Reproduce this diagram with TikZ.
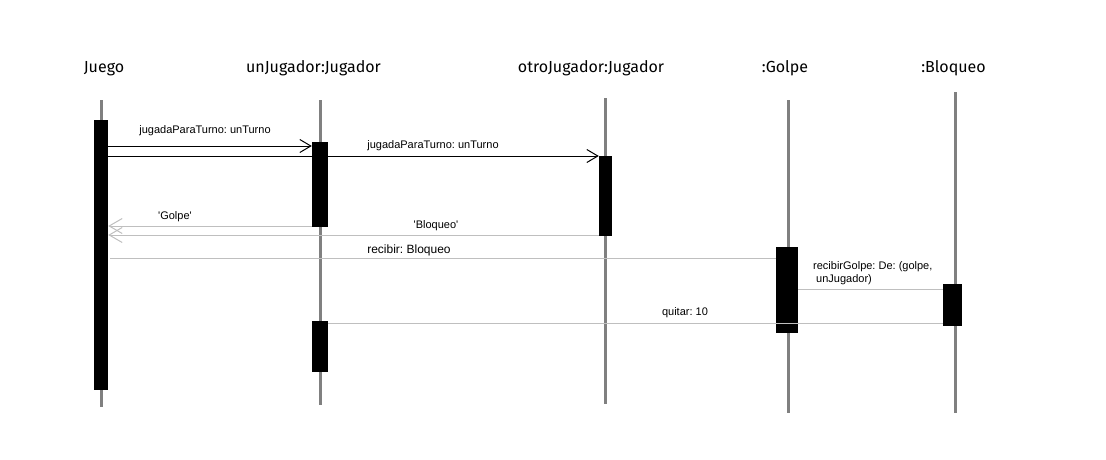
\documentclass[tikz,border=0pt]{standalone}
\usepackage{fontspec}
\setmainfont{Liberation Sans}
\newfontfamily\titlefont{Fira Sans}
\usetikzlibrary{positioning,arrows.meta}
\frenchspacing

\begin{document}
\begin{tikzpicture}[x=1pt,y=-1pt,font=\fontsize{11}{13}\selectfont,
  obj/.style={font=\titlefont\fontsize{16}{18}\selectfont,inner sep=0pt,anchor=base},
  life/.style={line width=3pt,black!50},
  act/.style={rectangle,fill=black,draw=none,inner sep=0pt},
  call/.style={-{Straight Barb[length=11pt,width=13pt]},line width=1pt,black},
  ret/.style={-{Straight Barb[length=13pt,width=15pt]},line width=1pt,black!25},
  msg/.style={line width=1pt,black!25},
  lbl/.style={inner sep=0pt,align=left}]
\useasboundingbox (0,0) rectangle (1106,460);
% objetos
\node[obj](juego) at (104,73){Juego};
\node[obj](unj) at (313.5,73){unJugador:Jugador};
\node[obj](otroj) at (591,73){otroJugador:Jugador};
\node[obj](golpe) at (785,73){:Golpe};
\node[obj](bloq) at (953.5,73){:Bloqueo};
% lineas de vida
\coordinate (ja) at (101,100); \coordinate (jz) at (101,407);
\coordinate (ua) at (320,100); \coordinate (uz) at (320,405);
\coordinate (oa) at (605.5,98); \coordinate (oz) at (605.5,404);
\coordinate (ga) at (788,100); \coordinate (gz) at (788,413);
\coordinate (ba) at (955,92); \coordinate (bz) at (955,413);
\draw[life](ja)--(jz);\draw[life](ua)--(uz);\draw[life](oa)--(oz);
\draw[life](ga)--(gz);\draw[life](ba)--(bz);
% activaciones
\node[act,minimum width=14pt,minimum height=270pt](jb) at (101,255){};
\node[act,minimum width=16pt,minimum height=85pt](ub1) at (320,184.5){};
\node[act,minimum width=16pt,minimum height=51pt](ub2) at (320,346.5){};
\node[act,minimum width=13pt,minimum height=80pt](ob) at (605.5,196){};
\node[act,minimum width=22pt,minimum height=86pt](gb) at (787,290){};
\node[act,minimum width=19pt,minimum height=42pt](bb) at (952.5,305){};
% mensajes
\coordinate (y1) at (0,146); \coordinate (y2) at (0,156);
\coordinate (y3) at (0,226); \coordinate (y4) at (0,235);
\coordinate (y5) at (0,258); \coordinate (y6) at (0,289);
\coordinate (y7) at (0,323);
\draw[call](jb.east |- y1)--(ub1.west |- y1);
\draw[call](jb.east |- y2)--(ob.west |- y2);
\draw[ret](ub1.west |- y3)--(jb.east |- y3);
\draw[ret](ob.west |- y4)--(jb.east |- y4);
\draw[msg](gb.west |- y5)--([xshift=2pt]jb.east |- y5);
\draw[msg](gb.east |- y6)--(bb.west |- y6);
\draw[msg](bb.west |- y7)--(ub2.east |- y7);
% etiquetas
\node[lbl](l1) at (205,131){jugadaParaTurno: unTurno};
\node[lbl](l2) at (433,146){jugadaParaTurno: unTurno};
\node[lbl](l3) at (175,217){\textquotesingle Golpe\textquotesingle};
\node[lbl](l4) at (436,226){\textquotesingle Bloqueo\textquotesingle};
\node[lbl,font=\fontsize{12}{14}\selectfont](l5) at (409,250){recibir: Bloqueo};
\node[lbl,anchor=north west](l6) at (813,261){recibirGolpe: De: (golpe,\\\hspace*{3pt}unJugador)};
\node[lbl](l7) at (685,313){quitar: 10};
\end{tikzpicture}
\end{document}
